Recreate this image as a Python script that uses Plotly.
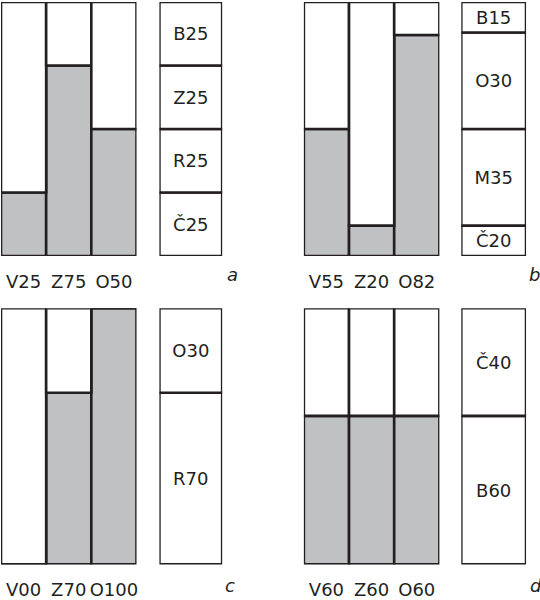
import plotly.graph_objects as go

# ---------------- data ----------------
panel_names = ["a", "b", "c", "d"]

a_bar_labels = ["V25", "Z75", "O50"]
a_bar_values = [25, 75, 50]
a_box_labels = ["Č25", "R25", "Z25", "B25"]   # bottom -> top
a_box_sizes = [25, 25, 25, 25]

b_bar_labels = ["V55", "Z20", "O82"]
b_bar_values = [50, 12, 87]
b_box_labels = ["Č20", "M35", "O30", "B15"]
b_box_sizes = [12, 38, 38, 12]

c_bar_labels = ["V00", "Z70", "O100"]
c_bar_values = [0, 67, 100]
c_box_labels = ["R70", "O30"]
c_box_sizes = [67, 33]

d_bar_labels = ["V60", "Z60", "O60"]
d_bar_values = [58, 58, 58]
d_box_labels = ["B60", "Č40"]
d_box_sizes = [58, 42]

TOTAL = 100

# ---------------- styling ----------------
W, H = 540, 600
INK = "#231f20"
GREY = "#c0c1c3"
FONT = "DejaVu Sans"
LW = 2.6

# pixel layout (left, right) / (top, bottom)
bar_x_px = {"a": (1, 137), "c": (1, 137), "b": (305, 441), "d": (305, 441)}
box_x_px = {"a": (160, 223), "c": (160, 223), "b": (463, 528), "d": (463, 528)}
y_px = {"a": (2, 260), "b": (2, 260), "c": (313, 573), "d": (313, 573)}
letter_pos = {"a": (233, 279), "b": (536, 279), "c": (231, 594), "d": (538, 594)}

panels = {
    "a": (a_bar_labels, a_bar_values, a_box_labels, a_box_sizes),
    "b": (b_bar_labels, b_bar_values, b_box_labels, b_box_sizes),
    "c": (c_bar_labels, c_bar_values, c_box_labels, c_box_sizes),
    "d": (d_bar_labels, d_bar_values, d_box_labels, d_box_sizes),
}


def xdom(px):
    return [px[0] / W, px[1] / W]


def ydom(px):
    return [1 - px[1] / H, 1 - px[0] / H]


fig = go.Figure()
layout = {}
annotations = []
axis_i = 0
for name in panel_names:
    bl, bv, xl, xs = panels[name]
    # bar axes
    axis_i += 1
    xa, ya = f"x{axis_i}", f"y{axis_i}"
    xk, yk = f"xaxis{axis_i}", f"yaxis{axis_i}"
    pos = list(range(len(bl)))
    fig.add_trace(go.Bar(x=pos, y=bv, width=1, marker=dict(color=GREY, line=dict(color=INK, width=LW)),
                         xaxis=xa, yaxis=ya, cliponaxis=False, hoverinfo="skip"))
    fig.add_trace(go.Bar(x=pos, y=[TOTAL - v for v in bv], base=bv, width=1,
                         marker=dict(color="white", line=dict(color=INK, width=LW)),
                         xaxis=xa, yaxis=ya, cliponaxis=False, hoverinfo="skip"))
    layout[xk] = dict(domain=xdom(bar_x_px[name]), range=[-0.5, len(bl) - 0.5], tickmode="array",
                      tickvals=pos, ticktext=bl, showgrid=False, zeroline=False, showline=False,
                      ticks="", tickangle=0, tickfont=dict(family=FONT, size=18, color=INK), anchor=ya,
                      ticklabelstandoff=13, fixedrange=True)
    layout[yk] = dict(domain=ydom(y_px[name]), range=[0, TOTAL], visible=False, anchor=xa, fixedrange=True)

    # box axes
    axis_i += 1
    xa, ya = f"x{axis_i}", f"y{axis_i}"
    xk, yk = f"xaxis{axis_i}", f"yaxis{axis_i}"
    base = 0
    for lab, sz in zip(xl, xs):
        fig.add_trace(go.Bar(x=[0], y=[sz], base=[base], width=1, text=[lab], textposition="inside",
                             insidetextanchor="middle", constraintext="none",
                             textfont=dict(family=FONT, size=18, color=INK),
                             marker=dict(color="white", line=dict(color=INK, width=LW)),
                             xaxis=xa, yaxis=ya, cliponaxis=False, hoverinfo="skip"))
        base += sz
    layout[xk] = dict(domain=xdom(box_x_px[name]), range=[-0.5, 0.5], visible=False, anchor=ya, fixedrange=True)
    layout[yk] = dict(domain=ydom(y_px[name]), range=[0, TOTAL], visible=False, anchor=xa, fixedrange=True)

    lx, ly = letter_pos[name]
    annotations.append(dict(text=f"<i>{name}</i>", x=lx / W, y=1 - ly / H, xref="paper", yref="paper",
                            showarrow=False, xanchor="center", yanchor="middle",
                            font=dict(family=FONT, size=18, color=INK)))

fig.update_layout(width=W, height=H, margin=dict(l=0, r=0, t=0, b=0), paper_bgcolor="white",
                  plot_bgcolor="white", showlegend=False, barmode="overlay", annotations=annotations,
                  uniformtext=dict(minsize=18, mode="show"), **layout)

fig.write_html("out.html", config={"displayModeBar": False})
